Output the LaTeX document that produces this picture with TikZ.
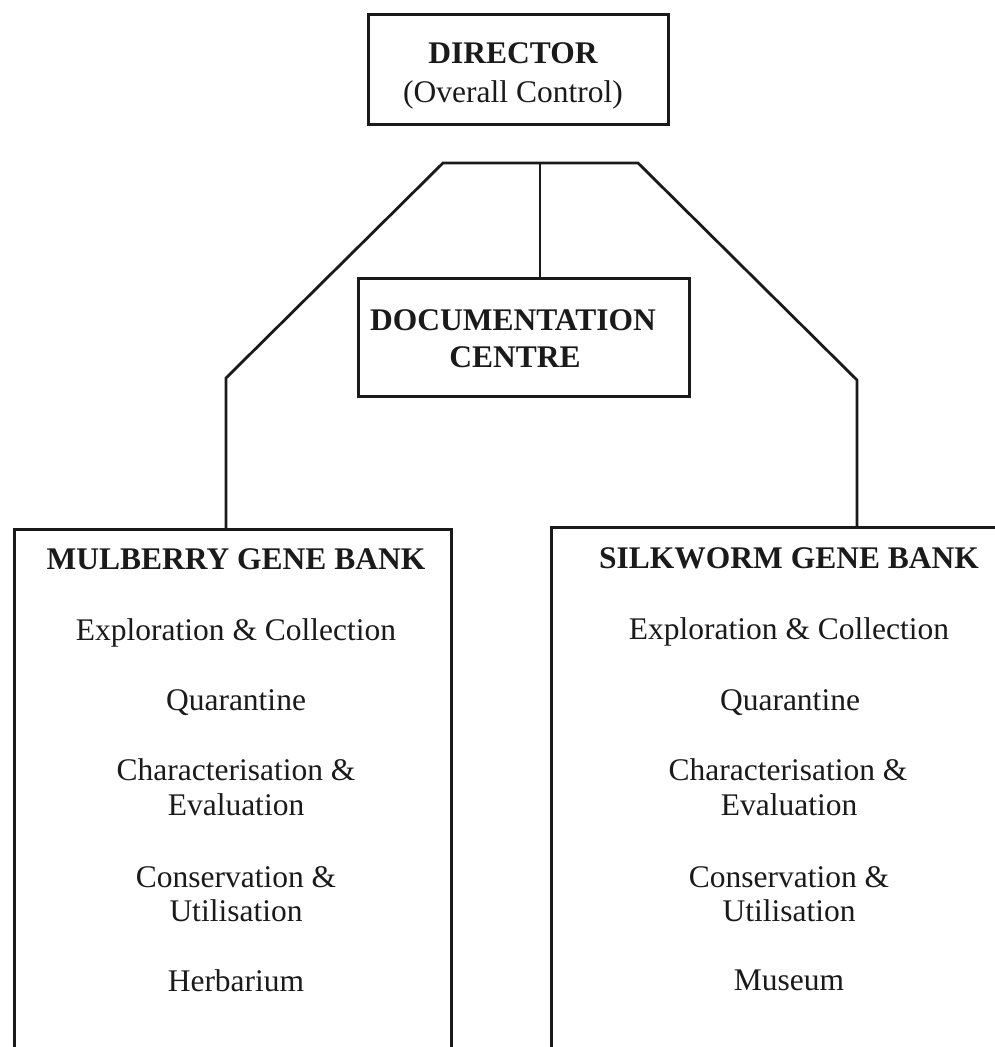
\documentclass[tikz,border=0pt]{standalone}
\usepackage{fontspec}
\setmainfont{Liberation Serif}
\definecolor{ink}{HTML}{1A1A1A}
\begin{document}
\begin{tikzpicture}[x=1pt,y=-1pt,
  line width=2.8pt, draw=ink,
  box/.style={draw=ink, line width=2.8pt, rectangle, inner sep=0pt, anchor=north west},
  lbl/.style={anchor=base, inner sep=0pt, text=ink, font=\fontsize{31.5}{35}\selectfont},
  hd/.style={lbl, font=\fontsize{31.5}{35}\selectfont\bfseries}]
\useasboundingbox (0,0) rectangle (995,1047);
\clip (0,0) rectangle (995,1047);
% boxes
\node[box, minimum width=300pt, minimum height=110pt] (dir) at (367,13) {};
\node[box, minimum width=331pt, minimum height=118pt] (doc) at (357,277) {};
\node[box, minimum width=437pt, minimum height=540pt] (mul) at (13,528) {};
\node[box, minimum width=460pt, minimum height=540pt] (sil) at (550,526) {};
% connector coordinates
\coordinate (hl) at (443,163);
\coordinate (hm) at (540,163);
\coordinate (hr) at (638,163);
\coordinate (lb) at (226,378);
\coordinate (rb) at (857,380);
\draw[line join=miter] (mul.north -| lb) -- (lb) -- (hl) -- (hr) -- (rb) -- (sil.north -| rb);
\draw (hm) -- (doc.north -| hm);
% director text
\node[hd] (dirA) at (513,63) {DIRECTOR};
\node[lbl] (dirB) at (513,102) {(Overall Control)};
\node[hd] (docA) at (513,330) {DOCUMENTATION};
\node[hd] (docB) at (515,367) {CENTRE};
% mulberry
\node[hd] (m0) at (236,569) {MULBERRY GENE BANK};
\node[lbl] (m1) at (236,640) {Exploration \& Collection};
\node[lbl] (m2) at (236,710) {Quarantine};
\node[lbl] (m3) at (236,780) {Characterisation \&};
\node[lbl] (m4) at (236,815) {Evaluation};
\node[lbl] (m5) at (236,887) {Conservation \&};
\node[lbl] (m6) at (236,921) {Utilisation};
\node[lbl] (m7) at (236,991) {Herbarium};
% silkworm
\node[hd] (s0) at (789,568) {SILKWORM GENE BANK};
\node[lbl] (s1) at (789,639) {Exploration \& Collection};
\node[lbl] (s2) at (790,710) {Quarantine};
\node[lbl] (s3) at (788,780) {Characterisation \&};
\node[lbl] (s4) at (789,815) {Evaluation};
\node[lbl] (s5) at (789,887) {Conservation \&};
\node[lbl] (s6) at (789,921) {Utilisation};
\node[lbl] (s7) at (789,990) {Museum};
\end{tikzpicture}
\end{document}
